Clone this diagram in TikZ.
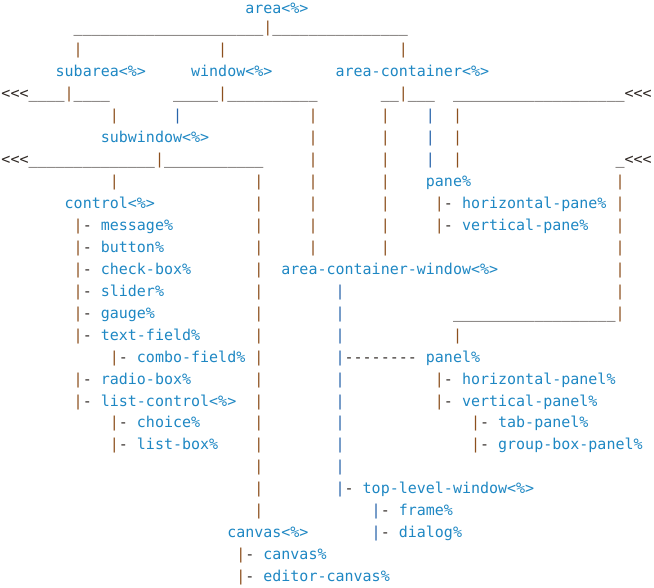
\documentclass[tikz,border=0pt]{standalone}
\usepackage{fontspec}
\setmonofont{DejaVu Sans Mono}
\usepackage{tikz}

\definecolor{linkblue}{RGB}{30,135,195}
\definecolor{barbrown}{RGB}{140,80,30}
\definecolor{barblue}{RGB}{40,100,170}
\definecolor{rulegray}{RGB}{45,38,34}

\newcommand\unds[1]{\foreach \k in {1,...,#1}{\_}}
\newcommand\tee{{\color{barbrown}|}-}
\newcommand\teeb{{\color{barblue}|}-}

\tikzset{
  every node/.style={inner sep=0pt, anchor=base west,
    font=\ttfamily\fontsize{15}{18}\selectfont, text=rulegray},
  cls/.style={text=linkblue},
  bar/.style={text=barbrown},
  barb/.style={text=barblue},
}

\begin{document}
\begin{tikzpicture}
\useasboundingbox (0pt,0pt) rectangle (654pt,-587pt);
\begin{scope}[shift={(1.3pt,-10.9pt)}, x=9.03pt, y=-21.95pt]

    % top level
    \node[cls] (area) at (27, 0.11) {area<\%>};
    \node (h1a) at (8, 1) {\unds{21}};
    \node[bar] (j1) at (29, 1) {|};
    \node (h1b) at (30, 1) {\unds{15}};
    \foreach \c in {8,24,44}
        \node[bar] (v2-\c) at (\c, 2) {|};

    \node[cls] (subarea) at (6, 3) {subarea<\%>};
    \node[cls] (window) at (21, 3) {window<\%>};
    \node[cls] (areacont) at (37, 3) {area-container<\%>};

    % row 4
    \node (lt4) at (0, 4) {<<<};
    \node (h4a) at (3, 4) {\unds{4}};
    \node[bar] (j4a) at (7, 4) {|};
    \node (h4b) at (8, 4) {\unds{4}};
    \node (h4c) at (19, 4) {\unds{5}};
    \node[bar] (j4b) at (24, 4) {|};
    \node (h4d) at (25, 4) {\unds{10}};
    \node (h4e) at (42, 4) {\unds{2}};
    \node[bar] (j4c) at (44, 4) {|};
    \node (h4f) at (45, 4) {\unds{3}};
    \node (h4g) at (50, 4) {\unds{19}};
    \node (gt4) at (69, 4) {<<<};

    \node[bar] (v5-12) at (12, 5) {|};
    \node[barb] (v5-19) at (19, 5) {|};
    \foreach \r in {5,6,7} {
        \node[bar] (v\r-34) at (34, \r) {|};
        \node[bar] (v\r-42) at (42, \r) {|};
        \node[barb] (v\r-47) at (47, \r) {|};
        \node[bar] (v\r-50) at (50, \r) {|};
    }
    \node[cls] (subwin) at (11, 6) {subwindow<\%>};

    % row 7
    \node (lt7) at (0, 7) {<<<};
    \node (h7a) at (3, 7) {\unds{14}};
    \node[bar] (j7) at (17, 7) {|};
    \node (h7b) at (18, 7) {\unds{11}};
    \node (h7c) at (68, 7) {\_};
    \node (gt7) at (69, 7) {<<<};

    % long verticals
    \node[bar] (v8-12) at (12, 8) {|};
    \foreach \r in {8,...,23}
        \node[bar] (v\r-28) at (28, \r) {|};
    \foreach \r in {8,...,11} {
        \node[bar] (v\r-34) at (34, \r) {|};
        \node[bar] (v\r-42) at (42, \r) {|};
    }
    \foreach \r in {8,...,14}
        \node[bar] (v\r-68) at (68, \r) {|};
    \foreach \r in {13,14,15,17,18,19,20,21}
        \node[barb] (v\r-37) at (37, \r) {|};

    % pane branch
    \node[cls] (pane) at (47, 8) {pane\%};
    \node (t-hpane) at (48, 9) {\tee};
    \node[cls] (hpane) at (51, 9) {horizontal-pane\%};
    \node (t-vpane) at (48, 10) {\tee};
    \node[cls] (vpane) at (51, 10) {vertical-pane\%};

    % control branch
    \node[cls] (control) at (7, 9) {control<\%>};
    \node (t-msg) at (8, 10) {\tee};
    \node[cls] (message) at (11, 10) {message\%};
    \node (t-btn) at (8, 11) {\tee};
    \node[cls] (button) at (11, 11) {button\%};
    \node (t-chk) at (8, 12) {\tee};
    \node[cls] (checkbox) at (11, 12) {check-box\%};
    \node (t-sld) at (8, 13) {\tee};
    \node[cls] (slider) at (11, 13) {slider\%};
    \node (t-gau) at (8, 14) {\tee};
    \node[cls] (gauge) at (11, 14) {gauge\%};
    \node (t-txt) at (8, 15) {\tee};
    \node[cls] (textfield) at (11, 15) {text-field\%};
    \node (t-cmb) at (12, 16) {\tee};
    \node[cls] (combo) at (15, 16) {combo-field\%};
    \node (t-rad) at (8, 17) {\tee};
    \node[cls] (radiobox) at (11, 17) {radio-box\%};
    \node (t-lst) at (8, 18) {\tee};
    \node[cls] (listctl) at (11, 18) {list-control<\%>};
    \node (t-cho) at (12, 19) {\tee};
    \node[cls] (choice) at (15, 19) {choice\%};
    \node (t-lbx) at (12, 20) {\tee};
    \node[cls] (listbox) at (15, 20) {list-box\%};

    % area-container-window branch
    \node[cls] (acwin) at (31, 12) {area-container-window<\%>};
    \node (h14) at (50, 14) {\unds{18}};
    \node[bar] (v15-50) at (50, 15) {|};
    \node[barb] (v16-37) at (37, 16) {|};
    \node (d16) at (38, 16) {--------};
    \node[cls] (panel) at (47, 16) {panel\%};
    \node (t-hpnl) at (48, 17) {\tee};
    \node[cls] (hpanel) at (51, 17) {horizontal-panel\%};
    \node (t-vpnl) at (48, 18) {\tee};
    \node[cls] (vpanel) at (51, 18) {vertical-panel\%};
    \node (t-tab) at (52, 19) {\tee};
    \node[cls] (tabpanel) at (55, 19) {tab-panel\%};
    \node (t-grp) at (52, 20) {\tee};
    \node[cls] (grppanel) at (55, 20) {group-box-panel\%};

    \node (t-tlw) at (37, 22) {\teeb};
    \node[cls] (toplevel) at (40, 22) {top-level-window<\%>};
    \node (t-frm) at (41, 23) {\teeb};
    \node[cls] (frame) at (44, 23) {frame\%};
    \node (t-dlg) at (41, 24) {\teeb};
    \node[cls] (dialog) at (44, 24) {dialog\%};

    % canvas branch
    \node[cls] (canvasi) at (25, 24) {canvas<\%>};
    \node (t-cnv) at (26, 25) {\tee};
    \node[cls] (canvas) at (29, 25) {canvas\%};
    \node (t-edc) at (26, 26) {\tee};
    \node[cls] (edcanvas) at (29, 26) {editor-canvas\%};

\end{scope}
\end{tikzpicture}
\end{document}
